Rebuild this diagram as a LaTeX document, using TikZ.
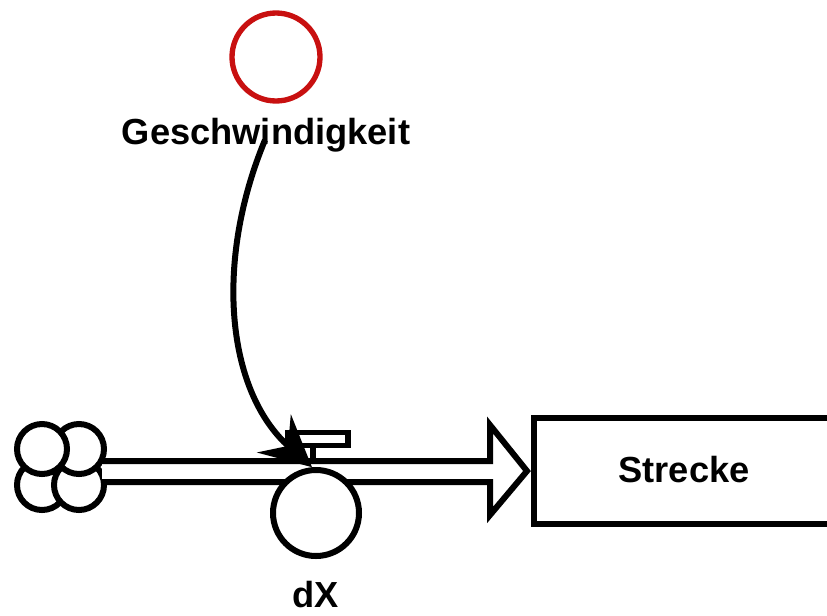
\documentclass[tikz,border=0pt]{standalone}
\usepackage{fontspec}
\setmainfont{Liberation Sans}
\usetikzlibrary{arrows.meta}
\definecolor{aux}{RGB}{200,16,16}
\tikzset{
  lbl/.style={font=\bfseries\fontsize{27.2}{31}\selectfont, inner sep=0pt},
  ln/.style={line width=4.5pt, draw=black},
  lobe/.style={circle, draw=black, fill=white, line width=4.5pt, minimum size=50\unitpx, inner sep=0pt},
}
\newlength{\unitpx}\setlength{\unitpx}{0.75pt}
\begin{document}
\begin{tikzpicture}[x=0.75pt,y=-0.75pt]
\useasboundingbox (0,0) rectangle (827,615);
% auxiliary
\node[circle, draw=aux, line width=4pt, minimum size=88\unitpx, inner sep=0pt] (gc) at (276,57) {};
\node[lbl] (gl) at (266,135) {Geschwindigkeit};
% stock
\node[draw=black, line width=4.5pt, minimum width=320\unitpx, minimum height=106\unitpx, anchor=west, inner sep=0pt] (st) at (531,471) {};
\node[lbl] (stl) at (684,470) {Strecke};
% cloud
\node[lobe] (c1) at (42,485) {};
\node[lobe] (c2) at (79,485) {};
\node[lobe] (c3) at (79,449) {};
\node[lobe] (c4) at (42,449) {};
% pipe with arrowhead
\draw[ln, line join=miter, fill=white] (102,461) -- (490,461) -- (490,425) -- (527,471) -- (490,515) -- (490,482) -- (102,482);
% valve
\node[draw=black, fill=white, line width=4pt, minimum width=60\unitpx, minimum height=13\unitpx, inner sep=0pt] (vl) at (318,439) {};
\draw[line width=4pt] (313,446) -- (313,461);
% flow circle
\node[circle, draw=black, fill=white, line width=4.5pt, minimum size=86\unitpx, inner sep=0pt] (dx) at (316,513) {};
\node[lbl] (dxl) at (316,595) {dX};
% connector
\coordinate (cs) at (265,140);
\draw[line width=4.5pt, -{Stealth[length=38pt,width=38pt,inset=14pt]}] (cs) .. controls (215,260) and (225,390) .. (dx.95);
\end{tikzpicture}
\end{document}
